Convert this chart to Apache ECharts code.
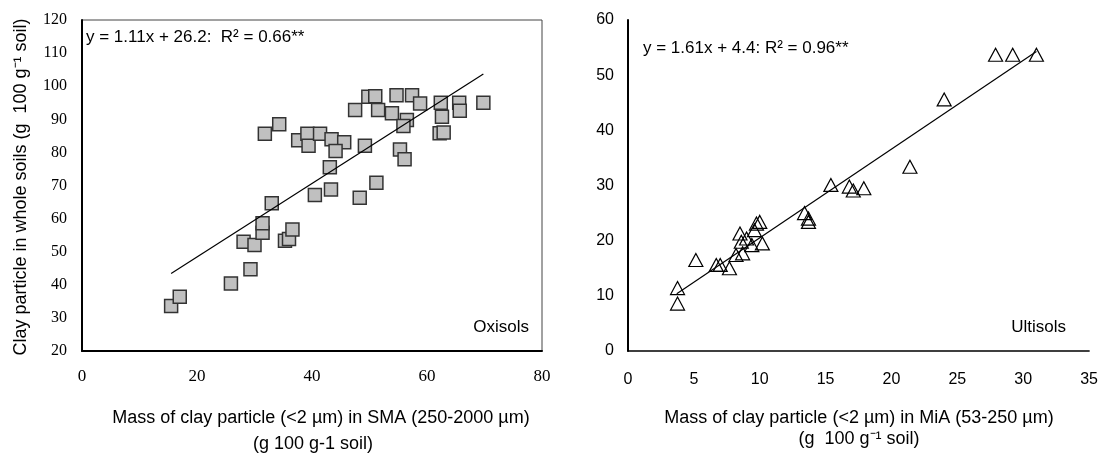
<!DOCTYPE html>
<html>
<head>
<meta charset="utf-8">
<script src="https://cdn.jsdelivr.net/npm/echarts@6/dist/echarts.min.js"></script>
<style>html,body{margin:0;padding:0;background:#fff}#c{width:1101px;height:454px}</style>
</head>
<body>
<div id="c"></div>
<script>
// Oxisols (left panel)
const oxiX = [15.5,17,25.9,29.3,28.1,30,31.4,31.4,35.3,36,36.6,33,31.8,34.3,37.6,39.2,39.4,41.4,43.4,45.6,44.1,43.1,43.3,40.5,48.3,49.2,47.5,49.8,51,51.5,51.2,53.9,54.7,57.4,58.8,56.5,55.9,55.3,56.1,62.4,62.6,62.2,62.9,65.6,65.7,69.8];
const oxiY = [33.6,36.4,40.4,44.7,53,52,55.7,58.6,53.3,53.8,56.7,64.6,85.6,88.5,83.7,85.6,82,85.6,84,83.1,80.4,75.5,68.8,67.1,66.3,82,92.8,96.8,97,92.8,70.8,91.8,97.3,97.3,94.8,89.8,88,80.9,77.9,95,90.8,85.8,86,95,92.6,95];
const oxiFit = {slope: 1.11, intercept: 26.2, xFrom: 15.5, xTo: 69.8};

// Ultisols (right panel)
const ultX = [3.76,3.76,5.15,6.7,7.0,7.7,8.2,8.7,8.5,8.6,9.0,9.4,9.6,9.75,10.0,10.2,13.4,13.7,13.7,15.4,16.8,17.1,17.9,21.4,24.0,27.9,29.2,31.0];
const ultY = [11.4,8.6,16.5,15.6,15.6,15,17.4,17.7,21.3,19.8,20.4,19.2,21.9,23.1,23.4,19.5,25,24,23.4,30.1,29.8,29.1,29.5,33.4,45.6,53.7,53.7,53.7];
const ultFit = {slope: 1.61, intercept: 4.4, xFrom: 3.7, xTo: 31.0};

const pairs = (xs, ys) => xs.map((x, i) => [x, ys[i]]);
const fitLine = f => [[f.xFrom, f.slope*f.xFrom + f.intercept], [f.xTo, f.slope*f.xTo + f.intercept]];

const chart = echarts.init(document.getElementById('c'));
const serif = '"Liberation Serif", "Times New Roman", serif';
const sans = '"Liberation Sans", Arial, sans-serif';

chart.setOption({
  animation: false,
  backgroundColor: '#ffffff',
  grid: [
    {left: 82, top: 20, width: 460, height: 331, show: true, borderColor: '#444', borderWidth: 1, backgroundColor: 'transparent'},
    {left: 628, top: 20, right: 9, height: 331}
  ],
  xAxis: [
    {gridIndex: 0, type: 'value', min: 0, max: 80, interval: 20,
     axisLine: {show: true, onZero: false, lineStyle: {color: '#000', width: 2}},
     axisTick: {show: false}, splitLine: {show: false},
     axisLabel: {margin: 17, color: '#000', fontFamily: serif, fontSize: 17}},
    {gridIndex: 1, type: 'value', min: 0, max: 35, interval: 5,
     axisLine: {show: true, onZero: false, lineStyle: {color: '#000', width: 1.5}},
     axisTick: {show: false}, splitLine: {show: false},
     axisLabel: {margin: 21, color: '#000', fontFamily: sans, fontSize: 16}}
  ],
  yAxis: [
    {gridIndex: 0, type: 'value', min: 20, max: 120, interval: 10,
     axisLine: {show: true, onZero: false, lineStyle: {color: '#000', width: 2}},
     axisTick: {show: false}, splitLine: {show: false},
     axisLabel: {margin: 15, color: '#000', fontFamily: serif, fontSize: 16}},
    {gridIndex: 1, type: 'value', min: 0, max: 60, interval: 10,
     axisLine: {show: true, onZero: false, lineStyle: {color: '#000', width: 2}},
     axisTick: {show: false}, splitLine: {show: false},
     axisLabel: {margin: 14, color: '#000', fontFamily: sans, fontSize: 16}}
  ],
  series: [
    {type: 'line', xAxisIndex: 0, yAxisIndex: 0, data: fitLine(oxiFit), symbol: 'none',
     lineStyle: {color: '#000', width: 1.2}, z: 3},
    {type: 'scatter', xAxisIndex: 0, yAxisIndex: 0, data: pairs(oxiX, oxiY), symbol: 'rect', symbolSize: 13,
     itemStyle: {color: '#c0c0c0', borderColor: '#333', borderWidth: 1.5, opacity: 1}, z: 2},
    {type: 'line', xAxisIndex: 1, yAxisIndex: 1, data: fitLine(ultFit), symbol: 'none',
     lineStyle: {color: '#000', width: 1.2}, z: 2},
    {type: 'scatter', xAxisIndex: 1, yAxisIndex: 1, data: pairs(ultX, ultY), symbol: 'triangle', symbolSize: [14, 13],
     itemStyle: {color: 'rgba(255,255,255,0)', borderColor: '#000', borderWidth: 1.2, opacity: 1}, z: 3}
  ],
  graphic: [
    {type: 'text', x: 86, y: 37, style: {text: 'y = 1.11x + 26.2:  R² = 0.66**', font: '17px ' + sans, fill: '#000', verticalAlign: 'middle'}},
    {type: 'text', x: 529, y: 327, style: {text: 'Oxisols', font: '17px ' + sans, fill: '#000', align: 'right', verticalAlign: 'middle'}},
    {type: 'text', x: 643, y: 48, style: {text: 'y = 1.61x + 4.4: R² = 0.96**', font: '17px ' + sans, fill: '#000', verticalAlign: 'middle'}},
    {type: 'text', x: 1066, y: 327, style: {text: 'Ultisols', font: '17px ' + sans, fill: '#000', align: 'right', verticalAlign: 'middle'}},
    {type: 'text', x: 21, y: 187, rotation: Math.PI/2,
     style: {text: 'Clay particle in whole soils (g  100 g⁻¹ soil)', font: '18px ' + sans, fill: '#000', align: 'center', verticalAlign: 'middle'}},
    {type: 'text', x: 321, y: 418, style: {text: 'Mass of clay particle (<2 µm) in SMA (250-2000 µm)', font: '18px ' + sans, fill: '#000', align: 'center', verticalAlign: 'middle'}},
    {type: 'text', x: 313, y: 444, style: {text: '(g 100 g-1 soil)', font: '18px ' + sans, fill: '#000', align: 'center', verticalAlign: 'middle'}},
    {type: 'text', x: 859, y: 418, style: {text: 'Mass of clay particle (<2 µm) in MiA (53-250 µm)', font: '18px ' + sans, fill: '#000', align: 'center', verticalAlign: 'middle'}},
    {type: 'text', x: 859, y: 439, style: {text: '(g  100 g⁻¹ soil)', font: '18px ' + sans, fill: '#000', align: 'center', verticalAlign: 'middle'}}
  ]
});
</script>
</body>
</html>
